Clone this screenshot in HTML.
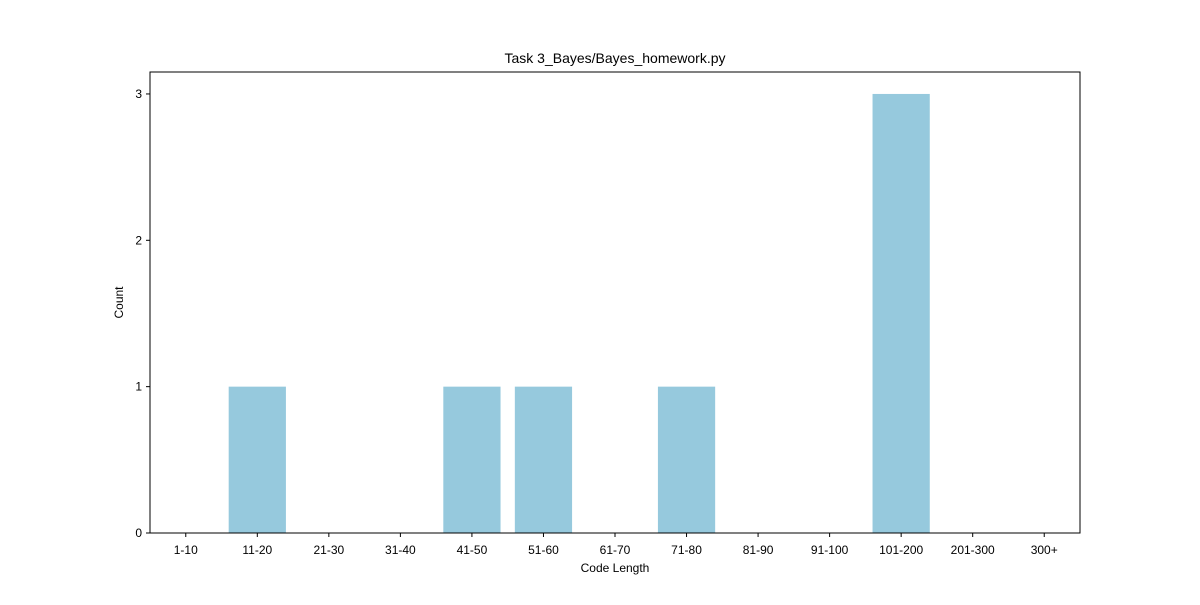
<!DOCTYPE html>
<html><head><meta charset="utf-8"><style>
body{margin:0;background:#fff;}
text{font-family:"Liberation Sans",sans-serif;fill:#000;}
</style></head><body>
<svg id="chart" width="1200" height="600" xmlns="http://www.w3.org/2000/svg">
<rect width="1200" height="600" fill="#fff"/>
<g id="plot"></g>
</svg>
<script>
const categories=["1-10","11-20","21-30","31-40","41-50","51-60","61-70","71-80","81-90","91-100","101-200","201-300","300+"];
const counts=[0,1,0,0,1,1,0,1,0,0,3,0,0];
const yTicks=[0,1,2,3];
const L=150,R=1080,T=72,B=533;
const yMax=3.15;
const n=categories.length;
const step=(R-L)/n;
const x=i=>L+step*(i+0.5);
const y=v=>B-(v/yMax)*(B-T);
const NS="http://www.w3.org/2000/svg";
const g=document.getElementById('plot');
function mk(tag,attrs,txt){const e=document.createElementNS(NS,tag);for(const k in attrs)e.setAttribute(k,attrs[k]);if(txt!==undefined)e.textContent=txt;g.appendChild(e);return e;}
counts.forEach((c,i)=>{
  const bw=step*0.8;
  const r=mk('rect',{x:x(i)-bw/2,y:y(c),width:bw,height:B-y(c),fill:'#96c9dd'});
  
  
});
const frame=mk('rect',{x:L,y:T,width:R-L,height:B-T,fill:'none',stroke:'#000','stroke-width':1});


categories.forEach((c,i)=>{
  const tk=mk('line',{x1:x(i),x2:x(i),y1:B,y2:B+4,stroke:'#000'});
  
  
  const t=mk('text',{x:x(i),y:B+21,'text-anchor':'middle','font-size':12},c);
  
  
});
yTicks.forEach(v=>{
  const tk=mk('line',{x1:L-4,x2:L,y1:y(v),y2:y(v),stroke:'#000'});
  
  
  const t=mk('text',{x:L-8,y:y(v)+4,'text-anchor':'end','font-size':12},v);
  
  
});
const xt=mk('text',{x:(L+R)/2,y:572,'text-anchor':'middle','font-size':12},'Code Length');


const yt=mk('text',{x:123,y:(T+B)/2,'text-anchor':'middle','font-size':12,transform:'rotate(-90 123 '+((T+B)/2)+')'},'Count');


const tt=mk('text',{x:(L+R)/2,y:63,'text-anchor':'middle','font-size':14},'Task 3_Bayes/Bayes_homework.py');


</script>
</body></html>
